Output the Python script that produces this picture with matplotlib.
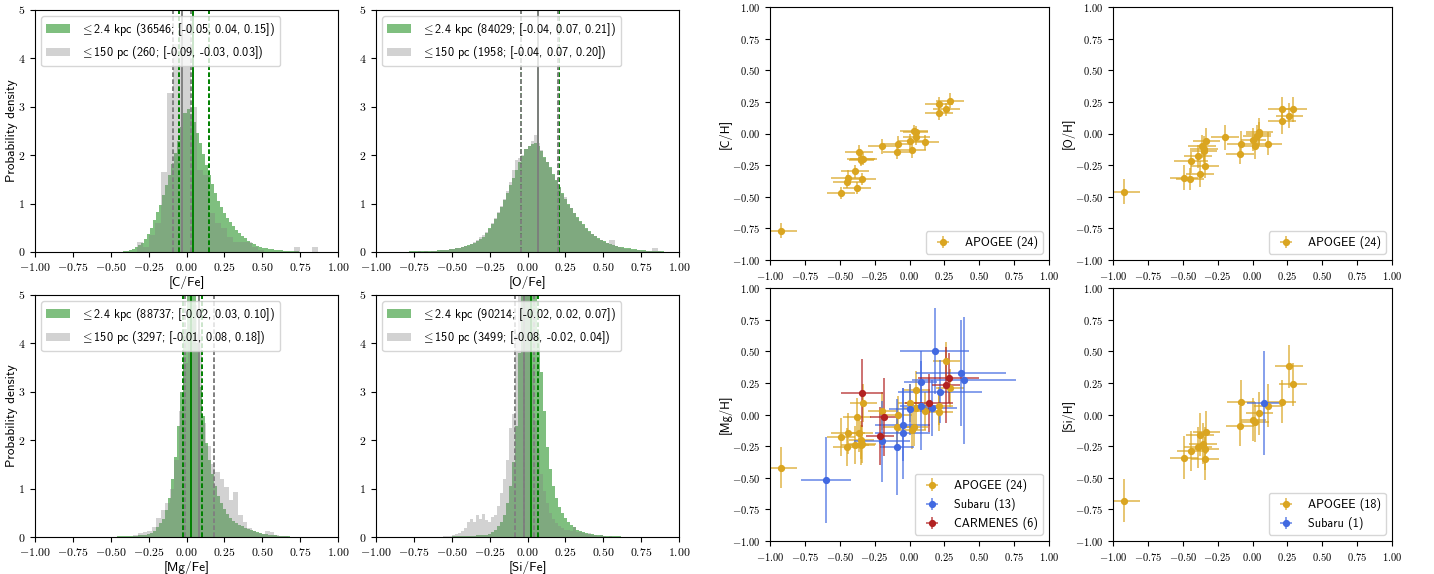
import numpy as np
import matplotlib
matplotlib.use('Agg')
import matplotlib.pyplot as plt
from matplotlib.ticker import FixedLocator, FuncFormatter

plt.rcParams['font.family'] = ['cmss10', 'DejaVu Sans']
plt.rcParams['mathtext.fontset'] = 'cm'
plt.rcParams['axes.unicode_minus'] = False

# ---------------- histogram data (bin start, bin width, densities) ----------------
cfe_green_start, cfe_green_w = -0.44, 0.02
cfe_green = [0.01, 0.02, 0.03, 0.05, 0.07, 0.10, 0.14, 0.19, 0.27, 0.37, 0.50, 0.66, 0.82, 0.98,
             1.18, 1.38, 1.60, 1.82, 2.05, 2.30, 2.58, 2.88, 2.95, 2.86, 2.68, 2.46, 2.25, 2.02,
             1.80, 1.60, 1.40, 1.22, 1.06, 0.93, 0.81, 0.71, 0.62, 0.54, 0.46, 0.39, 0.33, 0.28,
             0.23, 0.19, 0.16, 0.13, 0.11, 0.09, 0.08, 0.07, 0.06, 0.05, 0.04, 0.035, 0.03, 0.025,
             0.02, 0.02, 0.015, 0.01, 0.01, 0.01, 0.005, 0.005]
cfe_gray_start, cfe_gray_w = -0.33, 0.04
cfe_gray = [0.20, 0.10, 0.35, 0.60, 1.65, 3.28, 4.30, 4.50, 4.70, 3.00, 1.70, 1.60, 0.80, 0.60,
            0.50, 0.30, 0.20, 0.20, 0.20, 0.10, 0.05, 0.0, 0.0, 0.0, 0.0, 0.0, 0.10, 0.0, 0.0, 0.10, 0.0]

ofe_green_start, ofe_green_w = -0.90, 0.02
ofe_green = [0.005, 0.005, 0.005, 0.008, 0.01, 0.01, 0.012, 0.014, 0.016, 0.018, 0.02, 0.022,
             0.025, 0.028, 0.03, 0.034, 0.04, 0.045, 0.05, 0.06, 0.07, 0.08, 0.09, 0.10, 0.12,
             0.14, 0.16, 0.19, 0.22, 0.27, 0.32, 0.40, 0.49, 0.58, 0.68, 0.80, 0.93, 1.07, 1.22,
             1.38, 1.53, 1.69, 1.85, 1.99, 2.12, 2.20, 2.24, 2.25, 2.18, 2.08, 1.97, 1.86, 1.75,
             1.62, 1.48, 1.35, 1.22, 1.10, 1.00, 0.90, 0.81, 0.72, 0.64, 0.57, 0.50, 0.44, 0.38,
             0.33, 0.29, 0.25, 0.22, 0.19, 0.17, 0.15, 0.13, 0.11, 0.10, 0.085, 0.075, 0.065,
             0.055, 0.048, 0.04, 0.035, 0.03, 0.025, 0.02, 0.018, 0.015, 0.012, 0.01, 0.008,
             0.006, 0.005, 0.004]
ofe_gray_start, ofe_gray_w = -0.78, 0.02
ofe_gray = [0.0, 0.01, 0.0, 0.02, 0.0, 0.03, 0.01, 0.02, 0.03, 0.03, 0.04, 0.05, 0.04, 0.06,
            0.07, 0.08, 0.08, 0.11, 0.12, 0.13, 0.17, 0.20, 0.25, 0.31, 0.35, 0.42, 0.48, 0.60,
            0.70, 0.82, 0.95, 1.10, 1.26, 1.45, 1.70, 1.90, 1.95, 2.00, 2.12, 2.20, 2.30, 2.42,
            2.25, 2.10, 1.95, 1.85, 1.73, 1.60, 1.46, 1.33, 1.20, 1.14, 0.98, 0.90, 0.80, 0.70,
            0.62, 0.55, 0.48, 0.42, 0.37, 0.33, 0.27, 0.24, 0.21, 0.18, 0.25, 0.25, 0.12, 0.10,
            0.09, 0.07, 0.06, 0.05, 0.04, 0.04, 0.03, 0.03, 0.02, 0.03, 0.08, 0.08, 0.02, 0.01]

mgfe_green_start, mgfe_green_w = -0.56, 0.02
mgfe_green = [0.005, 0.005, 0.008, 0.01, 0.01, 0.012, 0.014, 0.016, 0.018, 0.02, 0.025, 0.03,
              0.035, 0.04, 0.05, 0.06, 0.08, 0.12, 0.20, 0.28, 0.38, 0.55, 0.80, 1.20, 1.65,
              2.30, 3.00, 4.30, 6.50, 7.00, 5.80, 4.00, 3.10, 2.50, 1.95, 1.60, 1.30, 1.05, 0.85,
              0.70, 0.58, 0.48, 0.40, 0.34, 0.29, 0.25, 0.22, 0.19, 0.16, 0.14, 0.12, 0.10, 0.08,
              0.07, 0.06, 0.05, 0.04, 0.035, 0.03, 0.025, 0.02, 0.015, 0.01, 0.01, 0.008, 0.005,
              0.005, 0.004, 0.003, 0.002]
mgfe_gray_start, mgfe_gray_w = -0.35, 0.03
mgfe_gray = [0.05, 0.08, 0.10, 0.12, 0.20, 0.40, 0.55, 0.70, 1.00, 1.60, 2.60, 3.60, 4.40, 4.80,
             4.20, 2.35, 1.87, 1.50, 1.35, 1.20, 1.04, 0.76, 0.94, 0.45, 0.32, 0.18, 0.12, 0.08,
             0.06, 0.12, 0.10, 0.04, 0.03, 0.02, 0.01, 0.01, 0.0, 0.0, 0.0, 0.0, 0.01]

sife_green_start, sife_green_w = -0.62, 0.02
sife_green = [0.004, 0.005, 0.006, 0.008, 0.01, 0.01, 0.012, 0.015, 0.015, 0.018, 0.02, 0.02,
              0.025, 0.03, 0.035, 0.04, 0.045, 0.05, 0.07, 0.10, 0.15, 0.22, 0.32, 0.45, 0.70,
              1.05, 1.55, 2.30, 3.80, 6.00, 8.50, 9.50, 8.00, 5.80, 4.20, 3.40, 2.60, 1.85, 1.40,
              1.05, 0.80, 0.62, 0.50, 0.40, 0.30, 0.25, 0.20, 0.15, 0.12, 0.10, 0.08, 0.07, 0.06,
              0.05, 0.04, 0.035, 0.03, 0.025, 0.02, 0.02, 0.015, 0.012, 0.01, 0.01, 0.008, 0.006,
              0.005, 0.004, 0.003, 0.003, 0.002, 0.002, 0.002, 0.001, 0.001, 0.001, 0.001, 0.001]
sife_gray_start, sife_gray_w = -0.56, 0.02
sife_gray = [0.02, 0.03, 0.02, 0.04, 0.06, 0.08, 0.12, 0.18, 0.30, 0.38, 0.32, 0.45, 0.38, 0.48,
             0.35, 0.30, 0.42, 0.45, 0.65, 0.90, 1.20, 1.60, 2.25, 2.55, 4.20, 6.00, 7.00, 6.50,
             5.00, 3.50, 2.40, 1.80, 1.30, 0.95, 0.70, 0.50, 0.38, 0.28, 0.22, 0.18, 0.15, 0.14,
             0.12, 0.20, 0.10, 0.10, 0.08, 0.06, 0.08, 0.05, 0.04, 0.03, 0.05, 0.03, 0.0, 0.02]

hist_labels = ['[C/Fe]', '[O/Fe]', '[Mg/Fe]', '[Si/Fe]']
green_n = [36546, 84029, 88737, 90214]
gray_n = [260, 1958, 3297, 3499]
green_pct = [[-0.05, 0.04, 0.15], [-0.04, 0.07, 0.21], [-0.02, 0.03, 0.10], [-0.02, 0.02, 0.07]]
gray_pct = [[-0.09, -0.03, 0.03], [-0.04, 0.07, 0.20], [-0.01, 0.08, 0.18], [-0.08, -0.02, 0.04]]

# ---------------- scatter data ----------------
apogee_feh = [-0.92, -0.49, -0.45, -0.44, -0.39, -0.375, -0.36, -0.35, -0.345, -0.34, -0.33, -0.20,
              -0.09, -0.08, 0.005, 0.02, 0.035, 0.045, 0.05, 0.11, 0.21, 0.21, 0.265, 0.29]
apogee_feh_err = [0.11, 0.10, 0.10, 0.12, 0.10, 0.10, 0.10, 0.10, 0.09, 0.10, 0.10, 0.10,
                  0.10, 0.10, 0.09, 0.10, 0.10, 0.09, 0.10, 0.10, 0.10, 0.10, 0.10, 0.10]
apogee_ch = [-0.77, -0.47, -0.38, -0.35, -0.30, -0.43, -0.15, -0.20, -0.21, -0.36, -0.20, -0.10,
             -0.15, -0.08, -0.06, -0.13, 0.02, 0.01, -0.03, -0.07, 0.16, 0.23, 0.19, 0.26]
apogee_ch_err = [0.06, 0.05, 0.05, 0.06, 0.05, 0.05, 0.06, 0.05, 0.05, 0.05, 0.05, 0.06,
                 0.05, 0.06, 0.06, 0.06, 0.05, 0.05, 0.06, 0.06, 0.05, 0.06, 0.05, 0.06]
apogee_oh = [-0.46, -0.35, -0.36, -0.22, -0.18, -0.32, -0.10, -0.12, -0.14, -0.26, -0.06, -0.03,
             -0.16, -0.08, -0.05, -0.10, -0.02, 0.00, 0.01, -0.08, 0.19, 0.10, 0.14, 0.19]
apogee_oh_err = [0.10, 0.10, 0.09, 0.09, 0.09, 0.10, 0.09, 0.10, 0.09, 0.09, 0.10, 0.10,
                 0.08, 0.10, 0.09, 0.10, 0.09, 0.09, 0.11, 0.09, 0.10, 0.10, 0.10, 0.10]
apogee_mgh = [-0.42, -0.18, -0.26, -0.15, -0.24, -0.02, -0.15, -0.24, -0.20, -0.23, 0.09, 0.03,
              -0.10, 0.00, 0.09, -0.12, -0.10, 0.05, 0.19, 0.03, 0.02, 0.07, 0.42, 0.21]
apogee_mgh_err = [0.16, 0.15, 0.15, 0.16, 0.15, 0.15, 0.15, 0.16, 0.15, 0.15, 0.15, 0.15,
                  0.15, 0.15, 0.15, 0.15, 0.15, 0.15, 0.15, 0.15, 0.15, 0.15, 0.15, 0.15]

subaru_feh = [-0.60, -0.20, -0.09, -0.05, -0.05, 0.00, 0.08, 0.08, 0.16, 0.18, 0.22, 0.37, 0.39]
subaru_feh_err = [0.18, 0.20, 0.12, 0.20, 0.20, 0.15, 0.15, 0.12, 0.18, 0.25, 0.30, 0.32, 0.37]
subaru_mgh = [-0.52, -0.21, -0.26, -0.15, -0.08, 0.04, 0.07, 0.26, 0.05, 0.50, 0.18, 0.33, 0.27]
subaru_mgh_err = [0.34, 0.32, 0.38, 0.36, 0.29, 0.20, 0.35, 0.24, 0.22, 0.34, 0.25, 0.42, 0.50]

carmenes_feh = [-0.34, -0.21, -0.18, 0.14, 0.26, 0.28]
carmenes_feh_err = [0.15, 0.10, 0.10, 0.17, 0.10, 0.22]
carmenes_mgh = [0.17, -0.17, -0.02, 0.09, 0.23, 0.29]
carmenes_mgh_err = [0.27, 0.23, 0.31, 0.23, 0.30, 0.20]

apogee_si_feh = [-0.92, -0.49, -0.44, -0.39, -0.375, -0.355, -0.34, -0.34, -0.33, -0.09, -0.08,
                 0.005, 0.02, 0.05, 0.11, 0.21, 0.26, 0.29]
apogee_si_feh_err = [0.11, 0.10, 0.10, 0.10, 0.10, 0.10, 0.10, 0.10, 0.10, 0.10, 0.10,
                     0.09, 0.10, 0.10, 0.10, 0.10, 0.10, 0.10]
apogee_sih = [-0.68, -0.34, -0.29, -0.26, -0.16, -0.23, -0.27, -0.35, -0.14, -0.09, 0.10,
              -0.04, -0.06, 0.01, 0.07, 0.10, 0.38, 0.24]
apogee_sih_err = [0.17, 0.17, 0.16, 0.16, 0.17, 0.16, 0.17, 0.17, 0.17, 0.16, 0.17,
                  0.17, 0.16, 0.17, 0.17, 0.17, 0.17, 0.17]
subaru_si_feh = [0.08]
subaru_si_feh_err = [0.12]
subaru_sih = [0.09]
subaru_sih_err = [0.41]

# ---------------- figure ----------------
W, H = 1434, 574
fig = plt.figure(figsize=(W / 100, H / 100), dpi=100)

def ax_px(left, top, right, bottom):
    return fig.add_axes([left / W, 1 - bottom / H, (right - left) / W, (bottom - top) / H])

ticks = np.arange(-1.0, 1.01, 0.25)
tick_fmt = FuncFormatter(lambda v, p: r'$%.2f$' % v)
int_fmt = FuncFormatter(lambda v, p: r'$%d$' % round(v))

GREEN = '#008000'
GRAY = '#808080'

hist_specs = [
    (cfe_green_start, cfe_green_w, cfe_green, cfe_gray_start, cfe_gray_w, cfe_gray),
    (ofe_green_start, ofe_green_w, ofe_green, ofe_gray_start, ofe_gray_w, ofe_gray),
    (mgfe_green_start, mgfe_green_w, mgfe_green, mgfe_gray_start, mgfe_gray_w, mgfe_gray),
    (sife_green_start, sife_green_w, sife_green, sife_gray_start, sife_gray_w, sife_gray),
]
hist_boxes = [(35, 10, 338, 252), (376, 10, 679, 252), (35, 295, 338, 537), (376, 295, 679, 537)]

dash = (0, (2.4, 1.2))
for i, (gs, gw, gh, ys, yw, yh) in enumerate(hist_specs):
    ax = ax_px(*hist_boxes[i])
    ge = gs + gw * np.arange(len(gh) + 1)
    ye = ys + yw * np.arange(len(yh) + 1)
    gp, yp = green_pct[i], gray_pct[i]
    lab_g = r'$\leq$2.4 kpc (%d; [%.2f, %.2f, %.2f])' % (green_n[i], gp[0], gp[1], gp[2])
    lab_y = r'$\leq$150 pc (%d; [%.2f, %.2f, %.2f])' % (gray_n[i], yp[0], yp[1], yp[2])
    ax.hist(ge[:-1] + gw / 2, bins=ge, weights=gh, color=GREEN, alpha=0.5, label=lab_g)
    ax.hist(ye[:-1] + yw / 2, bins=ye, weights=yh, color=GRAY, alpha=0.35, label=lab_y)
    for v, ls in zip(gp, [dash, '-', dash]):
        ax.axvline(v, color=GREEN, ls=ls, lw=1.4)
    for v, ls in zip(yp, [dash, '-', dash]):
        ax.axvline(v, color=GRAY, ls=ls, lw=1.4)
    ax.set_xlim(-1, 1)
    ax.set_ylim(0, 5)
    ax.xaxis.set_major_locator(FixedLocator(ticks))
    ax.xaxis.set_major_formatter(tick_fmt)
    ax.yaxis.set_major_locator(FixedLocator(range(6)))
    ax.yaxis.set_major_formatter(int_fmt)
    ax.tick_params(labelsize=8.5)
    ax.set_xlabel(hist_labels[i], fontsize=9.5, labelpad=2)
    if i % 2 == 0:
        ax.set_ylabel('Probability density', fontsize=9.5)
        ax.yaxis.set_label_coords(-0.056, 0.5)
    ax.legend(loc='upper left', fontsize=8.8, handlelength=2.0)

GOLD = '#DAA520'
BLUE = '#4169E1'
RED = '#B22222'

def eb(ax, x, y, xe, ye, color, label):
    c = ax.errorbar(x, y, xerr=xe, yerr=ye, fmt='o', color=color, ms=4.2, elinewidth=1.2,
                    capsize=0, label=label)
    for b in c[2]:
        b.set_alpha(0.75)

scat_boxes = [(770, 7, 1049, 260), (1113, 7, 1392, 260), (770, 288, 1049, 541), (1113, 288, 1392, 541)]
scat_labels = ['[C/H]', '[O/H]', '[Mg/H]', '[Si/H]']
axs = [ax_px(*b) for b in scat_boxes]
eb(axs[0], apogee_feh, apogee_ch, apogee_feh_err, apogee_ch_err, GOLD, 'APOGEE (%d)' % len(apogee_ch))
eb(axs[1], apogee_feh, apogee_oh, apogee_feh_err, apogee_oh_err, GOLD, 'APOGEE (%d)' % len(apogee_oh))
eb(axs[2], apogee_feh, apogee_mgh, apogee_feh_err, apogee_mgh_err, GOLD, 'APOGEE (%d)' % len(apogee_mgh))
eb(axs[2], subaru_feh, subaru_mgh, subaru_feh_err, subaru_mgh_err, BLUE, 'Subaru (%d)' % len(subaru_mgh))
eb(axs[2], carmenes_feh, carmenes_mgh, carmenes_feh_err, carmenes_mgh_err, RED, 'CARMENES (%d)' % len(carmenes_mgh))
eb(axs[3], apogee_si_feh, apogee_sih, apogee_si_feh_err, apogee_sih_err, GOLD, 'APOGEE (%d)' % len(apogee_sih))
eb(axs[3], subaru_si_feh, subaru_sih, subaru_si_feh_err, subaru_sih_err, BLUE, 'Subaru (%d)' % len(subaru_sih))

for ax, lab in zip(axs, scat_labels):
    ax.set_xlim(-1, 1)
    ax.set_ylim(-1, 1)
    for a in (ax.xaxis, ax.yaxis):
        a.set_major_locator(FixedLocator(ticks))
        a.set_major_formatter(tick_fmt)
    ax.tick_params(labelsize=7.6)
    ax.set_ylabel(lab, fontsize=9)
    ax.yaxis.set_label_coords(-0.136, 0.5)
    ax.legend(loc='lower right', fontsize=8.8, handlelength=2.0)

fig.savefig('out.png', dpi=100)
